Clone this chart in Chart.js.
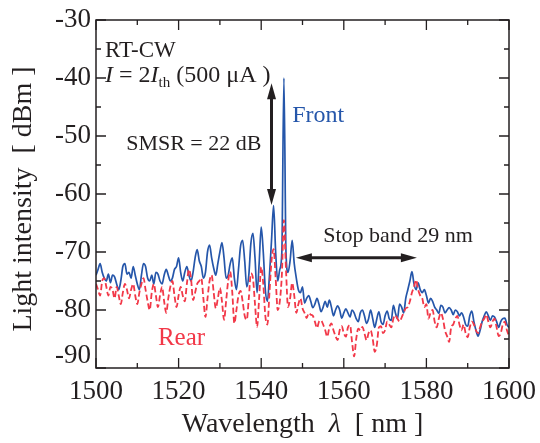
<!DOCTYPE html>
<html>
<head>
<meta charset="utf-8">
<script src="https://cdn.jsdelivr.net/npm/chart.js@4.4.1/dist/chart.umd.min.js"></script>
<style>
  html, body { margin: 0; padding: 0; background: #fff; }
  #wrap { width: 540px; height: 443px; }
</style>
</head>
<body>
<div id="wrap"><canvas id="espectro" width="540" height="443"></canvas></div>
<script>
// muestreo cada 0.5 nm desde 1500 hasta 1600
var lambdaInicio = 1500;
var lambdaPaso = 0.5;

// Front (salida frontal), dBm
var front = [
  -74.0,-73.0,-72.0,-73.5,-74.5,-75.0,-73.8,-75.3,-74.0,-74.3,-75.5,-76.5,-75.0,-72.5,-72.0,-73.8,-73.5,-74.5,-72.5,-74.0, // 1500
  -75.5,-76.5,-74.0,-72.0,-72.5,-74.5,-75.0,-74.0,-75.5,-73.5,-73.8,-75.0,-75.5,-74.0,-73.0,-74.0,-75.0,-74.5,-73.0,-72.5, // 1510
  -71.0,-73.5,-75.0,-73.5,-72.5,-74.0,-75.0,-73.5,-71.0,-69.6,-71.5,-72.5,-74.5,-73.5,-70.0,-68.8,-71.0,-72.8,-74.0,-72.0, // 1520
  -70.0,-68.4,-71.0,-74.5,-74.0,-72.0,-71.0,-74.5,-76.5,-73.0,-69.0,-68.0,-71.5,-76.0,-74.0,-68.5,-66.8,-71.0,-77.0,-72.0, // 1530
  -65.7,-70.0,-76.5,-78.5,-74.0,-68.0,-62.0,-70.0,-75.0,-73.0,-70.0,-40.0,-70.0,-73.5,-71.5,-68.0,-72.0,-74.5,-76.5,-77.0, // 1540
  -76.0,-78.8,-78.0,-77.5,-78.5,-79.6,-79.0,-78.0,-79.0,-80.3,-79.5,-78.5,-79.5,-78.3,-79.5,-81.0,-80.0,-79.3,-80.0,-81.4, // 1550
  -80.5,-79.8,-80.5,-81.2,-80.0,-80.5,-81.5,-82.0,-80.5,-80.0,-81.0,-82.3,-81.5,-80.0,-81.5,-83.0,-81.5,-80.3,-82.0,-82.5, // 1560
  -81.0,-80.2,-81.5,-81.8,-79.2,-80.5,-81.5,-79.0,-79.5,-80.5,-78.0,-76.5,-75.0,-73.4,-75.5,-76.5,-75.3,-76.5,-77.0,-76.5, // 1570
  -77.5,-78.8,-78.0,-78.5,-79.5,-80.0,-80.6,-79.2,-79.5,-80.5,-80.0,-79.6,-80.0,-80.8,-80.0,-80.3,-81.0,-80.5,-81.2,-82.5, // 1580
  -82.8,-81.0,-80.2,-82.0,-83.5,-84.5,-83.5,-82.0,-81.0,-80.3,-81.0,-81.8,-81.0,-81.2,-82.0,-83.0,-82.0,-81.5,-81.4,-82.5, // 1590
  -83.0
];

// Rear (salida trasera), dBm
var rear = [
  -75.5,-76.5,-77.5,-75.0,-74.5,-76.0,-77.5,-76.0,-76.5,-78.0,-76.0,-77.5,-79.0,-77.0,-75.5,-76.5,-78.0,-76.5,-75.5,-77.5, // 1500
  -79.0,-77.0,-75.5,-74.5,-76.5,-78.5,-80.0,-77.0,-75.5,-77.5,-79.5,-77.5,-76.0,-78.5,-80.5,-78.0,-76.0,-75.0,-77.5,-79.5, // 1510
  -77.5,-76.0,-77.5,-78.5,-75.5,-73.0,-74.5,-78.3,-77.0,-75.5,-75.0,-74.5,-78.0,-81.2,-78.0,-75.0,-74.0,-77.0,-79.7,-78.0, // 1520
  -76.2,-78.5,-81.7,-78.5,-75.0,-73.4,-77.0,-82.3,-80.0,-77.5,-76.7,-78.5,-81.0,-81.7,-78.0,-73.7,-74.5,-79.0,-82.9,-78.0, // 1530
  -72.6,-75.5,-81.0,-82.5,-77.0,-71.5,-69.5,-74.5,-80.0,-78.5,-74.0,-64.5,-73.0,-79.5,-78.0,-75.3,-77.5,-80.5,-79.0,-78.0, // 1540
  -79.7,-80.5,-81.4,-80.5,-80.8,-81.0,-82.0,-83.1,-82.0,-81.8,-82.5,-83.5,-84.6,-83.0,-82.3,-83.5,-84.5,-85.2,-83.5,-82.8, // 1550
  -84.0,-84.6,-83.0,-82.6,-85.5,-88.0,-85.0,-83.2,-83.5,-82.9,-84.0,-85.2,-84.0,-83.5,-85.0,-87.2,-86.0,-83.0,-82.8,-84.0, // 1560
  -83.5,-82.0,-82.5,-83.0,-81.5,-80.9,-81.5,-82.0,-81.3,-80.5,-79.7,-79.5,-78.5,-77.0,-76.0,-74.8,-76.5,-77.5,-78.0,-79.5, // 1570
  -79.0,-81.5,-80.5,-80.0,-82.0,-83.0,-81.5,-80.5,-81.5,-83.5,-84.5,-85.5,-83.0,-82.5,-81.5,-81.0,-82.5,-83.5,-82.5,-84.0, // 1580
  -84.7,-83.0,-82.0,-82.5,-83.5,-84.0,-83.0,-82.0,-81.5,-80.8,-82.0,-83.0,-82.0,-81.5,-83.0,-84.5,-84.0,-82.5,-82.0,-83.5, // 1590
  -84.5
];

var xMin = 1500, xMax = 1600, xPaso = 20;
var yMin = -90, yMax = -30, yPaso = 10;

var serif = '"Liberation Serif", "Times New Roman", serif';
var azul = 'rgb(37, 86, 170)';
var rojo = 'rgb(242, 56, 72)';
var negro = '#231f20';

function puntos(serie) {
  return serie.map(function (v, i) { return { x: lambdaInicio + i * lambdaPaso, y: v }; });
}

function flecha(ctx, x1, y1, x2, y2) {
  var ang = Math.atan2(y2 - y1, x2 - x1);
  var largo = 16, ancho = 4.5;
  ctx.beginPath();
  ctx.moveTo(x1 + Math.cos(ang) * largo * 0.8, y1 + Math.sin(ang) * largo * 0.8);
  ctx.lineTo(x2 - Math.cos(ang) * largo * 0.8, y2 - Math.sin(ang) * largo * 0.8);
  ctx.stroke();
  [[x1, y1, ang], [x2, y2, ang + Math.PI]].forEach(function (p) {
    var c = Math.cos(p[2]), s = Math.sin(p[2]);
    ctx.beginPath();
    ctx.moveTo(p[0], p[1]);
    ctx.lineTo(p[0] + c * largo - s * ancho, p[1] + s * largo + c * ancho);
    ctx.lineTo(p[0] + c * largo + s * ancho, p[1] + s * largo - c * ancho);
    ctx.closePath();
    ctx.fill();
  });
}

// fija el tamaño de cada eje y quita el relleno automatico
function fijar(ancho, alto) {
  return function (s) {
    if (ancho) s.width = ancho;
    if (alto) s.height = alto;
    s.paddingLeft = 0; s.paddingRight = 0; s.paddingTop = 0; s.paddingBottom = 0;
  };
}

var marco = {
  id: 'marco',
  afterDraw: function (chart) {
    var ctx = chart.ctx, a = chart.chartArea;
    var sx = chart.scales.x, sy = chart.scales.y;
    ctx.save();
    ctx.strokeStyle = negro;
    ctx.lineWidth = 1.5;
    ctx.strokeRect(a.left, a.top, a.right - a.left, a.bottom - a.top);

    // marcas hacia dentro en los cuatro lados
    ctx.lineWidth = 1.3;
    ctx.beginPath();
    for (var w = xMin; w <= xMax; w += 10) {
      var px = sx.getPixelForValue(w);
      var l = (w % 20 === 0) ? 10 : 5;
      ctx.moveTo(px, a.bottom); ctx.lineTo(px, a.bottom - l);
      ctx.moveTo(px, a.top); ctx.lineTo(px, a.top + l);
    }
    for (var v = yMin; v <= yMax; v += 5) {
      var py = sy.getPixelForValue(v);
      var m = (v % 10 === 0) ? 10 : 5;
      ctx.moveTo(a.left, py); ctx.lineTo(a.left + m, py);
      ctx.moveTo(a.right, py); ctx.lineTo(a.right - m, py);
    }
    ctx.stroke();

    // flechas
    ctx.strokeStyle = negro;
    ctx.fillStyle = negro;
    ctx.lineWidth = 3;
    flecha(ctx, sx.getPixelForValue(1542.5), sy.getPixelForValue(-40.9),
                sx.getPixelForValue(1542.5), sy.getPixelForValue(-61.9));
    flecha(ctx, sx.getPixelForValue(1548.4), sy.getPixelForValue(-71.0),
                sx.getPixelForValue(1577.7), sy.getPixelForValue(-71.0));

    // textos
    ctx.textBaseline = 'alphabetic';
    ctx.textAlign = 'left';
    ctx.fillStyle = negro;
    ctx.font = '23px ' + serif;
    ctx.fillText('RT-CW', sx.getPixelForValue(1502.2), sy.getPixelForValue(-36.4));

    var x0 = sx.getPixelForValue(1502.2), y0 = sy.getPixelForValue(-40.7);
    var partes = [
      ['italic 24px ' + serif, 'I', 0],
      ['24px ' + serif, ' = 2', 0],
      ['italic 24px ' + serif, 'I', 0],
      ['15px ' + serif, 'th', 5],
      ['24px ' + serif, ' (500 \u03bcA )', 0]
    ];
    partes.forEach(function (p) {
      ctx.font = p[0];
      ctx.fillText(p[1], x0, y0 + p[2]);
      x0 += ctx.measureText(p[1]).width;
    });

    ctx.font = '22px ' + serif;
    ctx.fillText('SMSR = 22 dB', sx.getPixelForValue(1507.3), sy.getPixelForValue(-52.4));
    ctx.fillText('Stop band 29 nm', sx.getPixelForValue(1555.0), sy.getPixelForValue(-68.3));

    ctx.fillStyle = azul;
    ctx.font = '24px ' + serif;
    ctx.fillText('Front', sx.getPixelForValue(1547.5), sy.getPixelForValue(-47.6));

    ctx.fillStyle = rojo;
    ctx.font = '25px ' + serif;
    ctx.fillText('Rear', sx.getPixelForValue(1515.0), sy.getPixelForValue(-86.0));

    // titulos de ejes
    ctx.fillStyle = negro;
    var tx = [
      ['28px ' + serif, 'Wavelength  '],
      ['italic 28px ' + serif, '\u03bb'],
      ['28px ' + serif, '  [ nm ]']
    ];
    var total = 0;
    tx.forEach(function (p) { ctx.font = p[0]; total += ctx.measureText(p[1]).width; });
    var cx = (a.left + a.right) / 2 - total / 2;
    tx.forEach(function (p) {
      ctx.font = p[0];
      ctx.fillText(p[1], cx, a.bottom + 64);
      cx += ctx.measureText(p[1]).width;
    });

    ctx.translate(31, (a.top + a.bottom) / 2 + 5);
    ctx.rotate(-Math.PI / 2);
    ctx.textAlign = 'center';
    ctx.font = '28px ' + serif;
    ctx.fillText('Light intensity  [ dBm ]', 0, 0);
    ctx.restore();
  }
};

var ctx = document.getElementById('espectro').getContext('2d');
var grafico = new Chart(ctx, {
  type: 'line',
  data: {
    datasets: [
      {
        label: 'Rear',
        data: puntos(rear),
        borderColor: rojo,
        borderWidth: 1.8,
        borderDash: [6, 3],
        pointRadius: 0,
        cubicInterpolationMode: 'monotone',
        order: 0
      },
      {
        label: 'Front',
        data: puntos(front),
        borderColor: azul,
        borderWidth: 1.7,
        pointRadius: 0,
        cubicInterpolationMode: 'monotone',
        order: 1
      }
    ]
  },
  options: {
    responsive: false,
    animation: false,
    devicePixelRatio: 1,
    layout: { padding: { top: 20, right: 31, left: 0, bottom: 0 } },
    plugins: { legend: { display: false }, tooltip: { enabled: false } },
    scales: {
      x: {
        type: 'linear',
        min: xMin,
        max: xMax,
        grid: { display: false, drawTicks: false },
        border: { display: false },
        ticks: {
          stepSize: xPaso,
          padding: 8,
          maxRotation: 0,
          color: negro,
          font: { family: serif, size: 27 },
          callback: function (v) { return String(v); }
        },
        afterFit: fijar(0, 75)
      },
      y: {
        min: yMin,
        max: yMax,
        grid: { display: false, drawTicks: false },
        border: { display: false },
        ticks: {
          stepSize: yPaso,
          padding: 5,
          color: negro,
          font: { family: serif, size: 27, lineHeight: 0.9 },
          callback: function (v) { return v === yMin ? [String(v), ''] : String(v); }
        },
        afterFit: fijar(96, 0)
      }
    }
  },
  plugins: [marco]
});
</script>
</body>
</html>
